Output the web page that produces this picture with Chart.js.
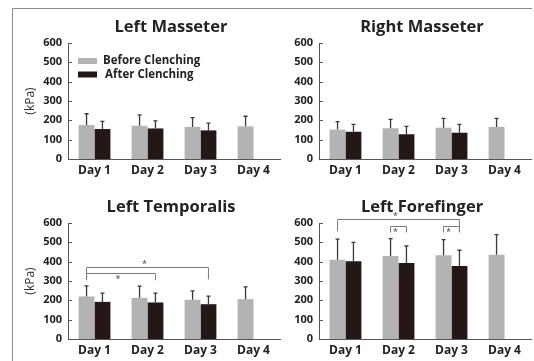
<!DOCTYPE html>
<html><head><meta charset="utf-8">
<script src="https://cdn.jsdelivr.net/npm/chart.js@4.4.1/dist/chart.umd.min.js"></script>
<style>
html,body{margin:0;padding:0;background:#fff;}
body{width:534px;height:361px;position:relative;overflow:hidden;font-family:"Open Sans",sans-serif;}
#frame{position:absolute;left:12px;top:8px;width:519px;height:360px;border-left:1px solid #8c8c8c;border-top:1px solid #8c8c8c;}
canvas{position:absolute;}
</style></head><body>
<div id="frame"></div>
<canvas id="c1" width="268" height="168" style="left:14px;top:12px"></canvas>
<canvas id="c2" width="249" height="168" style="left:284px;top:12px"></canvas>
<canvas id="c3" width="268" height="168" style="left:14px;top:192px"></canvas>
<canvas id="c4" width="249" height="168" style="left:284px;top:192px"></canvas>
<script>
// ---- data ----
const days = ['Day 1', 'Day 2', 'Day 3', 'Day 4'];
const yTicks = [0, 100, 200, 300, 400, 500, 600];
const seriesNames = ['Before Clenching', 'After Clenching'];

const lmBefore = [176, 172, 166, 169];
const lmBeforeSd = [58, 56, 48, 52];
const lmAfter = [155, 158, 148, null];
const lmAfterSd = [40, 39, 38, null];

const rmBefore = [152, 159, 162, 166];
const rmBeforeSd = [41, 46, 48, 44];
const rmAfter = [141, 128, 136, null];
const rmAfterSd = [38, 41, 43, null];

const ltBefore = [220, 213, 203, 206];
const ltBeforeSd = [55, 60, 46, 64];
const ltAfter = [192, 189, 180, null];
const ltAfterSd = [45, 48, 42, null];

const lfBefore = [410, 429, 433, 436];
const lfBeforeSd = [107, 90, 81, 104];
const lfAfter = [402, 393, 378, null];
const lfAfterSd = [98, 88, 81, null];

// significance brackets: from day (Before bar) to day (After bar), heights in kPa
const ltBrackets = [
  {from: 0, to: 2, top: 375, foot: 308, starAbove: true},
  {from: 0, to: 1, top: 340, foot: 304, starAbove: false}
];
const lfBrackets = [
  {from: 0, to: 2, top: 621, foot: 557, starAbove: true},
  {from: 1, to: 1, top: 582, foot: 551, starAbove: false},
  {from: 2, to: 2, top: 582, foot: 551, starAbove: false}
];

// ---- styles ----
const GRAY = '#b3b3b3';
const DARK = '#231815';
const FONT = '"Open Sans", "Noto Sans", sans-serif';

const panelPlugin = {
  id: 'panel',
  afterDatasetsDraw(chart, args, opts) {
    const ctx = chart.ctx;
    const ca = chart.chartArea;
    const ys = chart.scales.y;
    ctx.save();
    // inward tick marks
    ctx.strokeStyle = '#555';
    ctx.lineWidth = 1;
    yTicks.forEach(v => {
      const y = Math.round(ys.getPixelForValue(v)) + 0.5;
      ctx.beginPath(); ctx.moveTo(ca.left, y); ctx.lineTo(ca.left + 4, y); ctx.stroke();
    });
    // error bars
    ctx.strokeStyle = '#3a3a3a';
    ctx.lineWidth = 1.3;
    chart.data.datasets.forEach((ds, i) => {
      const meta = chart.getDatasetMeta(i);
      meta.data.forEach((bar, j) => {
        const v = ds.data[j], sd = ds.sd[j];
        if (v == null || sd == null) return;
        const yt = ys.getPixelForValue(v + sd);
        ctx.beginPath();
        ctx.moveTo(bar.x, bar.y); ctx.lineTo(bar.x, yt);
        ctx.moveTo(bar.x - 2, yt); ctx.lineTo(bar.x + 2, yt);
        ctx.stroke();
      });
    });
    ctx.restore();
  },
  afterDraw(chart, args, opts) {
    const ctx = chart.ctx;
    const ca = chart.chartArea;
    const ys = chart.scales.y;
    ctx.save();
    // title
    ctx.fillStyle = '#222';
    ctx.font = 'bold 16.5px ' + FONT;
    ctx.textAlign = 'center';
    ctx.textBaseline = 'alphabetic';
    ctx.fillText(opts.title, (ca.left + ca.right) / 2 - 3, ca.top - 11);
    // legend
    if (opts.legend) {
      const items = [[GRAY, seriesNames[0], ys.getPixelForValue(507), 35], [DARK, seriesNames[1], ys.getPixelForValue(437), 37]];
      ctx.font = 'bold 11.5px ' + FONT;
      ctx.textAlign = 'left';
      ctx.textBaseline = 'middle';
      items.forEach(([c, t, y, tx]) => {
        ctx.fillStyle = c;
        ctx.fillRect(ca.left + 10, y - 3, 19, 6);
        ctx.fillStyle = '#222';
        ctx.fillText(t, ca.left + tx, y);
      });
    }
    // brackets
    if (opts.brackets) {
      const m0 = chart.getDatasetMeta(0), m1 = chart.getDatasetMeta(1);
      opts.brackets.forEach(b => {
        const x1 = m0.data[b.from].x, x2 = m1.data[b.to].x;
        const yt = Math.round(ys.getPixelForValue(b.top)) + 0.5;
        const yf = ys.getPixelForValue(b.foot);
        ctx.strokeStyle = '#7a7a7a';
        ctx.lineWidth = 1;
        ctx.beginPath();
        ctx.moveTo(x1, yf); ctx.lineTo(x1, yt); ctx.lineTo(x2, yt); ctx.lineTo(x2, yf);
        ctx.stroke();
        ctx.fillStyle = '#444';
        ctx.font = '9px ' + FONT;
        ctx.textAlign = 'center';
        ctx.textBaseline = 'middle';
        const sy = b.starAbove ? yt - 3 : yt + 6;
        ctx.fillText('*', (x1 + x2) / 2 - 3, sy);
      });
    }
    ctx.restore();
  }
};

function makeChart(id, title, before, beforeSd, after, afterSd, opts) {
  const yWidth = opts.kpa ? 54 : 35;
  return new Chart(document.getElementById(id), {
    type: 'bar',
    data: {
      labels: days,
      datasets: [
        {label: seriesNames[0], data: before, sd: beforeSd, backgroundColor: GRAY, categoryPercentage: 0.6, barPercentage: 1},
        {label: seriesNames[1], data: after, sd: afterSd, backgroundColor: DARK, categoryPercentage: 0.6, barPercentage: 1}
      ]
    },
    options: {
      responsive: false,
      animation: false,
      devicePixelRatio: 1,
      layout: {padding: {top: 31, right: 2, left: 0, bottom: 0}},
      plugins: {
        legend: {display: false},
        tooltip: {enabled: false},
        title: {display: false},
        panel: {title: title, legend: !!opts.legend, brackets: opts.brackets || null}
      },
      scales: {
        x: {
          grid: {display: false, drawTicks: false},
          border: {color: '#555', width: 1},
          ticks: {color: '#222', font: {family: FONT, size: 12, weight: 'bold'}, padding: 4},
          afterFit(s) { s.height = 21; }
        },
        y: {
          min: 0, max: 600,
          grid: {display: false, drawTicks: false},
          border: {color: '#555', width: 1},
          ticks: {color: '#222', font: {family: FONT, size: 11, weight: 'bold'}, padding: 6},
          afterBuildTicks(s) { s.ticks = yTicks.map(v => ({value: v})); },
          title: {display: !!opts.kpa, text: '(kPa)', color: '#333', font: {family: FONT, size: 12}, padding: {top: 9, bottom: 0}},
          afterFit(s) { s.width = yWidth; }
        }
      }
    },
    plugins: [panelPlugin]
  });
}

makeChart('c1', 'Left Masseter', lmBefore, lmBeforeSd, lmAfter, lmAfterSd, {kpa: true, legend: true});
makeChart('c2', 'Right Masseter', rmBefore, rmBeforeSd, rmAfter, rmAfterSd, {});
makeChart('c3', 'Left Temporalis', ltBefore, ltBeforeSd, ltAfter, ltAfterSd, {kpa: true, brackets: ltBrackets});
makeChart('c4', 'Left Forefinger', lfBefore, lfBeforeSd, lfAfter, lfAfterSd, {brackets: lfBrackets});
</script>
</body></html>
